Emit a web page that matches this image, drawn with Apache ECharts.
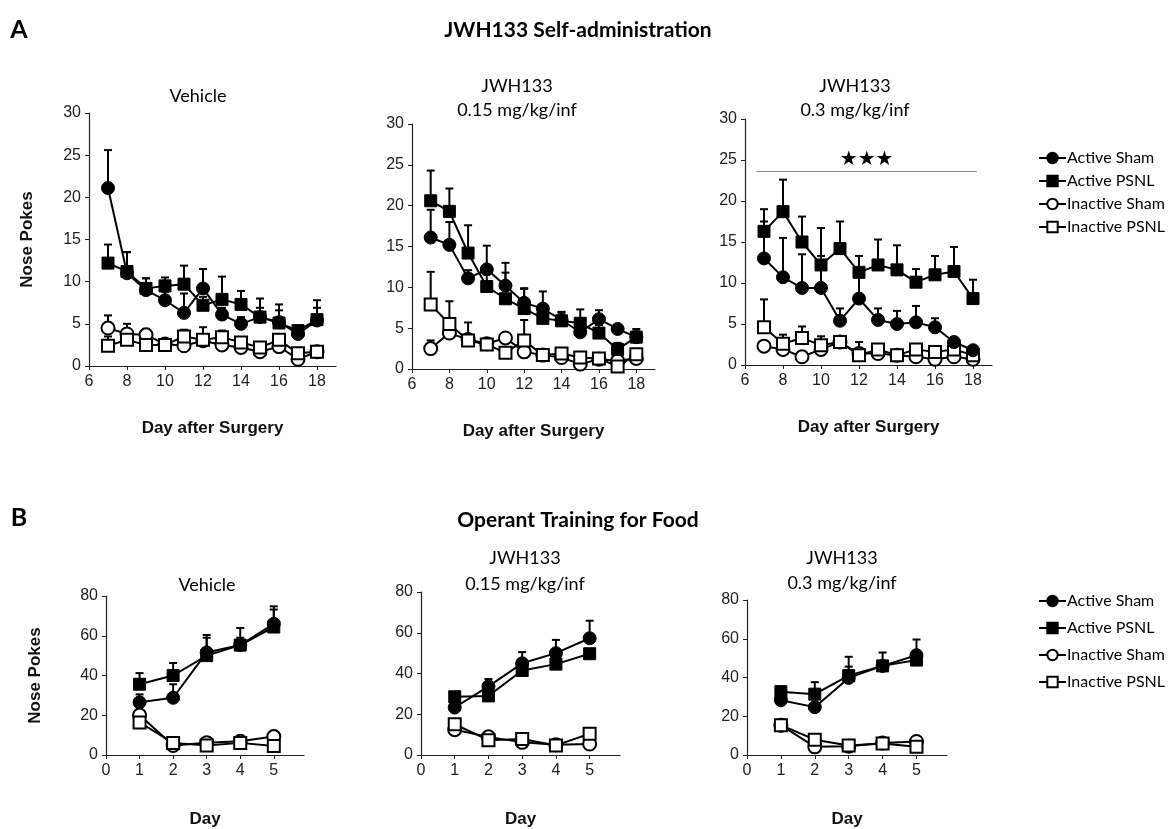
<!DOCTYPE html>
<html>
<head>
<meta charset="utf-8">
<script src="https://cdn.jsdelivr.net/npm/echarts@6/dist/echarts.min.js"></script>
<style>
  html, body { margin: 0; padding: 0; background: #fff; }
  #chart { width: 1170px; height: 829px; }
</style>
</head>
<body>
<div id="chart"></div>
<script>
// x values
const daysA = [7, 8, 9, 10, 11, 12, 13, 14, 15, 16, 17, 18];
const daysB = [1, 2, 3, 4, 5];
const seriesNames = ['Active Sham', 'Active PSNL', 'Inactive Sham', 'Inactive PSNL'];

// A - Vehicle
const aVehActSham = [21.1, 11.0, 9.0, 7.8, 6.3, 9.2, 6.1, 5.0, 5.8, 5.2, 3.8, 5.4];
const aVehActShamErr = [4.5, 2.5, 1.4, 1.0, 2.3, 2.3, 0.8, 0.8, 1.1, 1.4, 0.5, 1.5];
const aVehActPsnl = [12.2, 11.2, 9.2, 9.5, 9.7, 7.2, 7.9, 7.3, 5.8, 5.1, 4.2, 5.5];
const aVehActPsnlErr = [2.2, 2.3, 1.2, 1.0, 2.2, 1.0, 2.7, 1.6, 2.2, 2.2, 0.5, 2.3];
const aVehInaSham = [4.5, 3.8, 3.7, 2.6, 2.4, 3.0, 2.5, 2.2, 1.7, 2.3, 0.8, 1.7];
const aVehInaShamErr = [1.5, 1.2, 0.7, 0.4, 0.5, 1.6, 0.5, 0.4, 0.4, 0.5, 0.5, 0.3];
const aVehInaPsnl = [2.4, 3.1, 2.5, 2.5, 3.5, 3.1, 3.4, 2.8, 2.2, 3.1, 1.5, 1.7];
const aVehInaPsnlErr = [1.1, 0.6, 0.5, 0.5, 0.8, 0.6, 0.8, 0.4, 0.4, 0.5, 0.4, 0.3];

// A - JWH133 0.15
const aLowActSham = [16.1, 15.2, 11.1, 12.2, 10.2, 8.1, 7.4, 6.0, 4.5, 6.1, 4.9, 3.9];
const aLowActShamErr = [3.4, 2.8, 1.0, 2.9, 2.8, 1.8, 2.1, 1.0, 1.2, 1.1, 0.5, 1.0];
const aLowActPsnl = [20.6, 19.3, 14.2, 10.1, 8.6, 7.4, 6.2, 5.9, 5.6, 4.4, 2.4, 3.9];
const aLowActPsnlErr = [3.7, 2.8, 3.4, 1.5, 3.2, 2.4, 1.5, 1.0, 1.7, 1.0, 0.8, 0.7];
const aLowInaSham = [2.5, 4.4, 3.6, 3.1, 3.8, 2.1, 1.7, 1.4, 0.6, 1.2, 1.0, 1.3];
const aLowInaShamErr = [1.0, 1.0, 0.6, 0.6, 0.5, 0.5, 0.4, 0.4, 0.4, 0.4, 0.4, 0.3];
const aLowInaPsnl = [7.9, 5.5, 3.5, 3.0, 2.0, 3.5, 1.7, 1.9, 1.4, 1.3, 0.3, 1.8];
const aLowInaPsnlErr = [4.0, 2.8, 2.2, 0.6, 0.6, 2.5, 0.5, 0.5, 0.5, 0.5, 0.5, 0.5];

// A - JWH133 0.3
const aHighActSham = [13.0, 10.7, 9.4, 9.4, 5.4, 8.1, 5.5, 5.0, 5.2, 4.6, 2.8, 1.8];
const aHighActShamErr = [4.5, 4.8, 4.1, 3.9, 1.5, 2.7, 1.4, 1.6, 2.0, 1.1, 0.4, 0.3];
const aHighActPsnl = [16.3, 18.7, 15.0, 12.2, 14.2, 11.3, 12.2, 11.6, 10.1, 11.0, 11.4, 8.1];
const aHighActPsnlErr = [2.7, 3.9, 3.1, 4.5, 3.3, 2.0, 3.1, 3.0, 1.6, 2.3, 3.0, 2.3];
const aHighInaSham = [2.3, 1.9, 1.0, 1.9, 2.8, 1.4, 1.4, 1.2, 1.0, 0.7, 1.0, 0.7];
const aHighInaShamErr = [0.4, 0.4, 0.4, 0.4, 0.4, 0.3, 0.3, 0.3, 0.3, 0.3, 0.3, 0.3];
const aHighInaPsnl = [4.6, 2.6, 3.3, 2.4, 2.8, 1.2, 1.9, 1.2, 1.9, 1.6, 1.9, 1.2];
const aHighInaPsnlErr = [3.4, 1.1, 1.4, 1.1, 0.4, 1.6, 0.4, 0.6, 0.4, 0.6, 0.4, 0.4];
const sigLine = [6.6, 18.2, 23.6]; // from, to, level

// B - Vehicle
const bVehActSham = [26.5, 28.8, 51.6, 55.3, 66.0];
const bVehActShamErr = [4.0, 6.8, 8.8, 3.7, 8.8];
const bVehActPsnl = [35.6, 40.0, 50.0, 55.3, 64.4];
const bVehActPsnlErr = [5.6, 6.3, 9.0, 8.6, 8.8];
const bVehInaSham = [20.1, 4.8, 6.2, 6.9, 9.3];
const bVehInaShamErr = [1.0, 1.0, 1.0, 1.0, 1.0];
const bVehInaPsnl = [16.4, 6.1, 4.8, 6.1, 4.5];
const bVehInaPsnlErr = [1.0, 1.0, 1.0, 1.0, 1.0];

// B - JWH133 0.15
const bLowActSham = [23.3, 33.7, 45.0, 50.0, 57.3];
const bLowActShamErr = [2.0, 3.6, 5.5, 6.5, 8.6];
const bLowActPsnl = [28.6, 29.0, 41.5, 44.6, 49.7];
const bLowActPsnlErr = [2.0, 2.0, 2.0, 2.0, 2.0];
const bLowInaSham = [12.4, 8.9, 6.2, 5.0, 5.4];
const bLowInaShamErr = [1.0, 1.0, 1.0, 1.0, 1.0];
const bLowInaPsnl = [15.1, 7.3, 7.8, 4.7, 10.4];
const bLowInaPsnlErr = [1.0, 1.0, 1.0, 1.0, 1.0];

// B - JWH133 0.3
const bHighActSham = [28.3, 24.7, 39.8, 46.0, 51.5];
const bHighActShamErr = [2.0, 2.0, 5.8, 2.0, 8.1];
const bHighActPsnl = [32.7, 31.4, 41.0, 46.0, 49.0];
const bHighActPsnlErr = [2.0, 6.2, 9.7, 6.9, 3.0];
const bHighInaSham = [15.4, 4.2, 4.5, 6.2, 7.0];
const bHighInaShamErr = [1.0, 1.0, 1.0, 1.0, 1.0];
const bHighInaPsnl = [15.4, 7.9, 4.9, 5.9, 4.2];
const bHighInaPsnlErr = [1.0, 1.0, 1.0, 1.0, 1.0];

const panels = [
  { days: daysA, grid: { left: 89, top: 113, width: 247, height: 253 }, x: [6, 19, 2], y: [0, 30, 5],
    yName: 'Nose Pokes', yGap: 53, xName: 'Day after Surgery', xGap: 54,
    vals: [aVehActSham, aVehActPsnl, aVehInaSham, aVehInaPsnl],
    errs: [aVehActShamErr, aVehActPsnlErr, aVehInaShamErr, aVehInaPsnlErr] },
  { days: daysA, grid: { left: 412, top: 124, width: 243, height: 245 }, x: [6, 19, 2], y: [0, 30, 5],
    yName: '', xName: 'Day after Surgery', xGap: 54,
    vals: [aLowActSham, aLowActPsnl, aLowInaSham, aLowInaPsnl],
    errs: [aLowActShamErr, aLowActPsnlErr, aLowInaShamErr, aLowInaPsnlErr] },
  { days: daysA, grid: { left: 745, top: 119, width: 247, height: 246 }, x: [6, 19, 2], y: [0, 30, 5],
    yName: '', xName: 'Day after Surgery', xGap: 54, sig: true,
    vals: [aHighActSham, aHighActPsnl, aHighInaSham, aHighInaPsnl],
    errs: [aHighActShamErr, aHighActPsnlErr, aHighInaShamErr, aHighInaPsnlErr] },
  { days: daysB, grid: { left: 106, top: 596, width: 198, height: 167 }, x: [0, 5.9, 1], y: [0, 80, 20],
    yName: 'Nose Pokes', yGap: 62, xName: 'Day', xGap: 56,
    vals: [bVehActSham, bVehActPsnl, bVehInaSham, bVehInaPsnl],
    errs: [bVehActShamErr, bVehActPsnlErr, bVehInaShamErr, bVehInaPsnlErr] },
  { days: daysB, grid: { left: 421, top: 592, width: 199, height: 172 }, x: [0, 5.9, 1], y: [0, 80, 20],
    yName: '', xName: 'Day', xGap: 56,
    vals: [bLowActSham, bLowActPsnl, bLowInaSham, bLowInaPsnl],
    errs: [bLowActShamErr, bLowActPsnlErr, bLowInaShamErr, bLowInaPsnlErr] },
  { days: daysB, grid: { left: 747, top: 600, width: 200, height: 159 }, x: [0, 5.9, 1], y: [0, 80, 20],
    yName: '', xName: 'Day', xGap: 56,
    vals: [bHighActSham, bHighActPsnl, bHighInaSham, bHighInaPsnl],
    errs: [bHighActShamErr, bHighActPsnlErr, bHighInaShamErr, bHighInaPsnlErr] }
];

const symbols = ['circle', 'rect', 'circle', 'rect'];
const filled = [true, true, false, false];
const axisFont = 'Liberation Sans, Arial, sans-serif';
const calibri = 'Lato, "Open Sans", sans-serif';

function errorBar(params, api) {
  const x = api.value(0), y = api.value(1), e = api.value(2);
  const p0 = api.coord([x, y]);
  const p1 = api.coord([x, y + e]);
  return {
    type: 'group',
    children: [
      { type: 'line', shape: { x1: p0[0], y1: p0[1], x2: p1[0], y2: p1[1] }, style: { stroke: '#000', lineWidth: 2 } },
      { type: 'line', shape: { x1: p1[0] - 4, y1: p1[1], x2: p1[0] + 4, y2: p1[1] }, style: { stroke: '#000', lineWidth: 2 } }
    ]
  };
}

const grids = [], xAxes = [], yAxes = [], series = [];
panels.forEach((p, i) => {
  grids.push(p.grid);
  xAxes.push({
    type: 'value', gridIndex: i, min: p.x[0], max: p.x[1], interval: p.x[2],
    name: p.xName, nameLocation: 'middle', nameGap: p.xGap,
    nameTextStyle: { fontFamily: axisFont, fontWeight: 'bold', fontSize: 17, color: '#111' },
    axisLine: { onZero: false, lineStyle: { color: '#222', width: 1.2 } },
    axisTick: { length: 4, lineStyle: { color: '#222' } },
    axisLabel: { showMaxLabel: false, fontFamily: axisFont, fontSize: 16, color: '#222', margin: 8 },
    splitLine: { show: false }
  });
  yAxes.push({
    type: 'value', gridIndex: i, min: p.y[0], max: p.y[1], interval: p.y[2],
    name: p.yName, nameLocation: 'middle', nameGap: p.yGap || 40, nameRotate: 90,
    nameTextStyle: { fontFamily: axisFont, fontWeight: 'bold', fontSize: 17, color: '#111' },
    axisLine: { show: true, lineStyle: { color: '#222', width: 1.2 } },
    axisTick: { show: true, length: 4, lineStyle: { color: '#222' } },
    axisLabel: { fontFamily: axisFont, fontSize: 16, color: '#222', margin: 8 },
    splitLine: { show: false }
  });
  // error bars first, drawn under markers
  p.vals.forEach((v, k) => {
    series.push({
      type: 'custom', xAxisIndex: i, yAxisIndex: i, z: 1, silent: true,
      renderItem: errorBar, encode: { x: 0, y: 1 },
      data: p.days.map((d, j) => [d, v[j], p.errs[k][j]])
    });
  });
  // inactive drawn first, active on top
  [2, 3, 0, 1].forEach(k => {
    const s = {
      name: seriesNames[k], type: 'line', xAxisIndex: i, yAxisIndex: i, z: 3,
      symbol: symbols[k], symbolSize: symbols[k] === 'rect' ? 12 : 13, showAllSymbol: true,
      lineStyle: { color: '#000', width: 2 },
      itemStyle: filled[k] ? { color: '#000', borderColor: '#000', borderWidth: 1 }
                           : { color: '#fff', borderColor: '#000', borderWidth: 2 },
      emphasis: { disabled: true },
      data: p.days.map((d, j) => [d, p.vals[k][j]])
    };
    if (p.sig && k === 1) {
      s.markLine = {
        silent: true, symbol: 'none', animation: false,
        lineStyle: { color: '#8a8a8a', width: 1, type: 'solid' },
        label: { show: true, formatter: '★★★', position: 'insideMiddleTop', distance: 2,
                 fontSize: 20, color: '#000', fontFamily: 'DejaVu Sans' },
        data: [[{ coord: [sigLine[0], sigLine[2]] }, { coord: [sigLine[1], sigLine[2]] }]]
      };
    }
    series.push(s);
  });
});

function legendAt(top, gap) {
  return {
    orient: 'vertical', left: 1033, top: top, itemGap: gap, itemWidth: 27, itemHeight: 13,
    data: seriesNames, selectedMode: false,
    textStyle: { fontFamily: calibri, fontSize: 16, color: '#000', padding: [0, 0, 0, -4] }
  };
}

const txt = (t, x, y, size, bold) => ({
  type: 'text', x: x, y: y,
  style: { text: t, fontFamily: calibri, fontSize: size, fontWeight: bold ? 'bold' : 'normal',
           fill: '#000', textAlign: 'center', textVerticalAlign: 'middle' }
});

const chart = echarts.init(document.getElementById('chart'));
chart.setOption({
  animation: false,
  backgroundColor: '#fff',
  grid: grids,
  xAxis: xAxes,
  yAxis: yAxes,
  legend: [legendAt(145, 7), legendAt(588, 11)],
  series: series,
  graphic: [
    txt('A', 19, 30, 25, true),
    txt('JWH133 Self-administration', 578, 30, 21, true),
    txt('Vehicle', 198, 96, 18),
    txt('JWH133', 517, 86, 18),
    txt('0.15 mg/kg/inf', 517, 110, 18),
    txt('JWH133', 855, 86, 18),
    txt('0.3 mg/kg/inf', 855, 110, 18),
    txt('B', 19, 518, 25, true),
    txt('Operant Training for Food', 578, 520, 21, true),
    txt('Vehicle', 207, 585, 18),
    txt('JWH133', 525, 558, 18),
    txt('0.15 mg/kg/inf', 525, 584, 18),
    txt('JWH133', 842, 558, 18),
    txt('0.3 mg/kg/inf', 842, 583, 18)
  ]
});
</script>
</body>
</html>
